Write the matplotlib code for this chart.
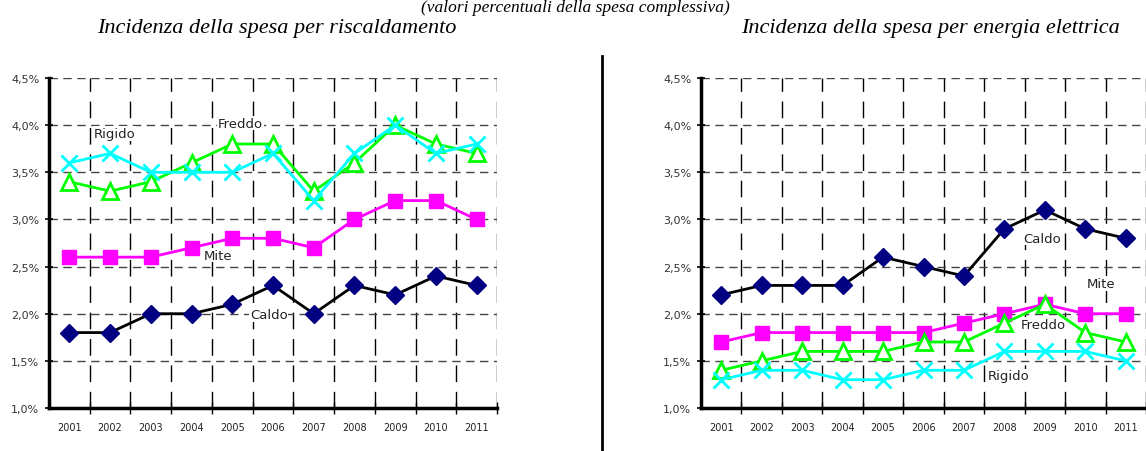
import numpy as np
import matplotlib
matplotlib.use("Agg")
import matplotlib.pyplot as plt
from matplotlib.ticker import FuncFormatter

years = ['2001', '2002', '2003', '2004', '2005', '2006', '2007', '2008', '2009', '2010', '2011']

# incidenza spesa per riscaldamento (%)
risc_caldo = [1.8, 1.8, 2.0, 2.0, 2.1, 2.3, 2.0, 2.3, 2.2, 2.4, 2.3]
risc_mite = [2.6, 2.6, 2.6, 2.7, 2.8, 2.8, 2.7, 3.0, 3.2, 3.2, 3.0]
risc_freddo = [3.4, 3.3, 3.4, 3.6, 3.8, 3.8, 3.3, 3.6, 4.0, 3.8, 3.7]
risc_rigido = [3.6, 3.7, 3.5, 3.5, 3.5, 3.7, 3.2, 3.7, 4.0, 3.7, 3.8]

# incidenza spesa per energia elettrica (%)
el_caldo = [2.2, 2.3, 2.3, 2.3, 2.6, 2.5, 2.4, 2.9, 3.1, 2.9, 2.8]
el_mite = [1.7, 1.8, 1.8, 1.8, 1.8, 1.8, 1.9, 2.0, 2.1, 2.0, 2.0]
el_freddo = [1.4, 1.5, 1.6, 1.6, 1.6, 1.7, 1.7, 1.9, 2.1, 1.8, 1.7]
el_rigido = [1.3, 1.4, 1.4, 1.3, 1.3, 1.4, 1.4, 1.6, 1.6, 1.6, 1.5]

styles = {
    'Caldo': dict(color='black', marker='D', mfc='#000080', mec='#000080', ms=9),
    'Mite': dict(color='#FF00FF', marker='s', mfc='#FF00FF', mec='#FF00FF', ms=10),
    'Freddo': dict(color='#00FF00', marker='^', mfc='white', mec='#00FF00', ms=11, mew=2),
    'Rigido': dict(color='#00FFFF', marker='x', mec='#00FFFF', ms=11, mew=2),
}

W, H = 1146, 452
fig = plt.figure(figsize=(W / 100, H / 100), dpi=100)


def pct(v, _):
    return ('%.1f%%' % v).replace('.', ',')


def panel(rect, series, labels):
    ax = fig.add_axes(rect)
    x = np.arange(len(years))
    for name, vals in series:
        ax.plot(x, vals, lw=2, zorder=3, clip_on=False, **styles[name])
    for name, (lx, ly) in labels.items():
        ax.text(lx, ly, name, fontsize=9.5, ha='center', va='center',
                color='#222222', zorder=2.5,
                bbox=dict(fc='white', ec='none', pad=0.5))
    ax.set_xlim(-0.5, len(years) - 0.5)
    ax.set_ylim(1.0, 4.5)
    ax.set_yticks(np.arange(1.0, 4.51, 0.5))
    ax.yaxis.set_major_formatter(FuncFormatter(pct))
    bounds = np.arange(0.5, len(years) - 0.4, 1.0)
    ax.set_xticks(bounds)
    ax.set_xticklabels([])
    ax.set_xticks(x, minor=True)
    ax.set_xticklabels(years, minor=True, fontsize=7, color='#222222')
    ax.tick_params(axis='x', which='major', direction='inout', length=8, width=1)
    ax.tick_params(axis='x', which='minor', length=0, pad=10)
    ax.tick_params(axis='y', direction='inout', length=6, width=1.2,
                   labelsize=8, labelcolor='#333333', pad=4)
    ax.grid(axis='y', color='#444444', ls=(0, (6, 4)), lw=1)
    ax.grid(axis='x', which='major', color='black', ls=(0, (12, 7)), lw=1)
    ax.set_axisbelow(True)
    for s in ['top', 'right']:
        ax.spines[s].set_visible(False)
    for s in ['left', 'bottom']:
        ax.spines[s].set_linewidth(2.5)
    return ax


panel([49 / W, 43 / H, 448 / W, 330 / H],
      [('Caldo', risc_caldo), ('Mite', risc_mite),
       ('Freddo', risc_freddo), ('Rigido', risc_rigido)],
      {'Rigido': (1.1, 3.91), 'Freddo': (4.2, 4.02),
       'Mite': (3.65, 2.62), 'Caldo': (4.9, 1.99)})

panel([701 / W, 43 / H, 445 / W, 330 / H],
      [('Caldo', el_caldo), ('Mite', el_mite),
       ('Freddo', el_freddo), ('Rigido', el_rigido)],
      {'Caldo': (7.94, 2.80), 'Mite': (9.38, 2.32),
       'Freddo': (7.97, 1.89), 'Rigido': (7.1, 1.34)})

serif = ['Liberation Serif', 'DejaVu Serif']
fig.text(575 / W, 1 - 12 / H, '(valori percentuali della spesa complessiva)',
         ha='center', va='baseline', fontsize=12.5, style='italic', family=serif)
fig.text(277 / W, 1 - 33 / H, 'Incidenza della spesa per riscaldamento',
         ha='center', va='baseline', fontsize=16, style='italic', family=serif)
fig.text(930 / W, 1 - 33 / H, 'Incidenza della spesa per energia elettrica',
         ha='center', va='baseline', fontsize=16, style='italic', family=serif)

fig.add_artist(plt.Line2D([602 / W, 602 / W], [0, 1 - 57 / H], color='black', lw=2))

fig.savefig('out.png', dpi=100)
